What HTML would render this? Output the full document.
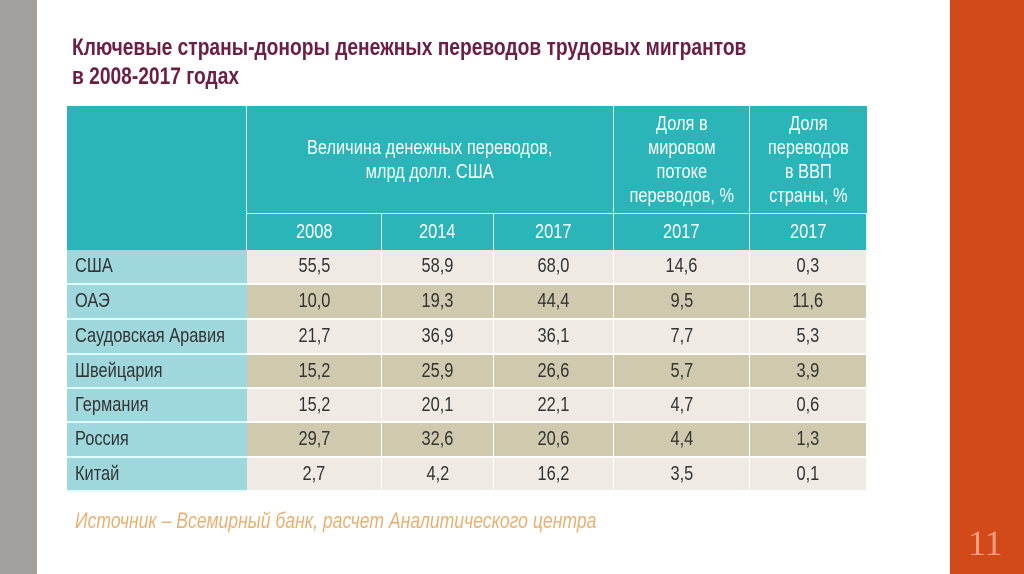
<!DOCTYPE html>
<html><head><meta charset="utf-8"><style>
body{margin:0;width:1024px;height:574px;background:#fff;position:relative;overflow:hidden;font-family:"Liberation Sans",sans-serif}
.grey{position:absolute;left:0;top:0;width:37px;height:574px;background:#a39f9f}
.or{position:absolute;left:950px;top:0;width:74px;height:574px;background:#d24a1a}
.num{position:absolute;left:968px;top:522px;color:#f0a080;font:36px "Liberation Serif",serif}
.t{position:absolute;left:72px;top:33px;color:#6b1f45;font-size:24px;line-height:29px;font-weight:bold;white-space:nowrap;transform:scaleX(0.8);transform-origin:0 0}
.c{position:absolute;display:flex;align-items:center;justify-content:center;text-align:center;box-sizing:border-box;font-size:20px;color:#333;white-space:nowrap}
.c span{display:inline-block;transform:scaleX(0.82)}
.src{position:absolute;left:75px;top:508px;color:#e8b070;font-style:italic;font-size:22px;white-space:nowrap;transform:scaleX(0.8);transform-origin:0 0}
</style></head><body>
<div class="grey"></div><div class="or"></div><div class="num">11</div>
<div class="t">Ключевые страны-доноры денежных переводов трудовых мигрантов<br>в 2008-2017 годах</div>
<div id="tb"></div>
<div class="src">Источник – Всемирный банк, расчет Аналитического центра</div>
<script>
var X=[67,247,382,494,614,750,867],Y=[250,285,320,355,389,423,458,492];
var h='';
function c(x,y,w,hh,txt,st,left){h+='<div class="c" style="left:'+x+'px;top:'+y+'px;width:'+w+'px;height:'+hh+'px;'+st+'"><span'+(left?' style="transform-origin:0 50%"':'')+'>'+txt+'</span></div>';}
var H='background:#2bb5b8;color:#fff;line-height:24px;font-size:20px;';
c(67,106,180,144,'','background:#2bb5b8;border-right:1px solid #dff');
c(247,106,367,108,'Величина денежных переводов,<br>млрд долл. США',H+'border-right:1px solid #dff;border-bottom:1px solid #dff');
c(614,106,136,108,'Доля в<br>мировом<br>потоке<br>переводов, %',H+'border-right:1px solid #dff;border-bottom:1px solid #dff');
c(750,106,117,108,'Доля<br>переводов<br>в ВВП<br>страны, %',H+'border-bottom:1px solid #dff');
var yr=['2008','2014','2017','2017','2017'];
for(var i=0;i<5;i++)c(X[i+1],214,X[i+2]-X[i+1],36,yr[i],H+'border-right:1px solid #dff');
var d=[['США','55,5','58,9','68,0','14,6','0,3'],['ОАЭ','10,0','19,3','44,4','9,5','11,6'],['Саудовская Аравия','21,7','36,9','36,1','7,7','5,3'],['Швейцария','15,2','25,9','26,6','5,7','3,9'],['Германия','15,2','20,1','22,1','4,7','0,6'],['Россия','29,7','32,6','20,6','4,4','1,3'],['Китай','2,7','4,2','16,2','3,5','0,1']];
for(var r=0;r<7;r++){var bg=r%2?'#cfc9ae':'#efebe4';
c(67,Y[r],180,Y[r+1]-Y[r],d[r][0],'background:#9ed8dc;justify-content:flex-start;padding-left:8px;border-bottom:2px solid #dff',true);
for(var i=1;i<6;i++)c(X[i],Y[r],X[i+1]-X[i],Y[r+1]-Y[r],d[r][i],'background:'+bg+';border-right:1px solid #fff;border-bottom:2px solid #fff');}
document.getElementById('tb').innerHTML=h;
</script>
</body></html>
